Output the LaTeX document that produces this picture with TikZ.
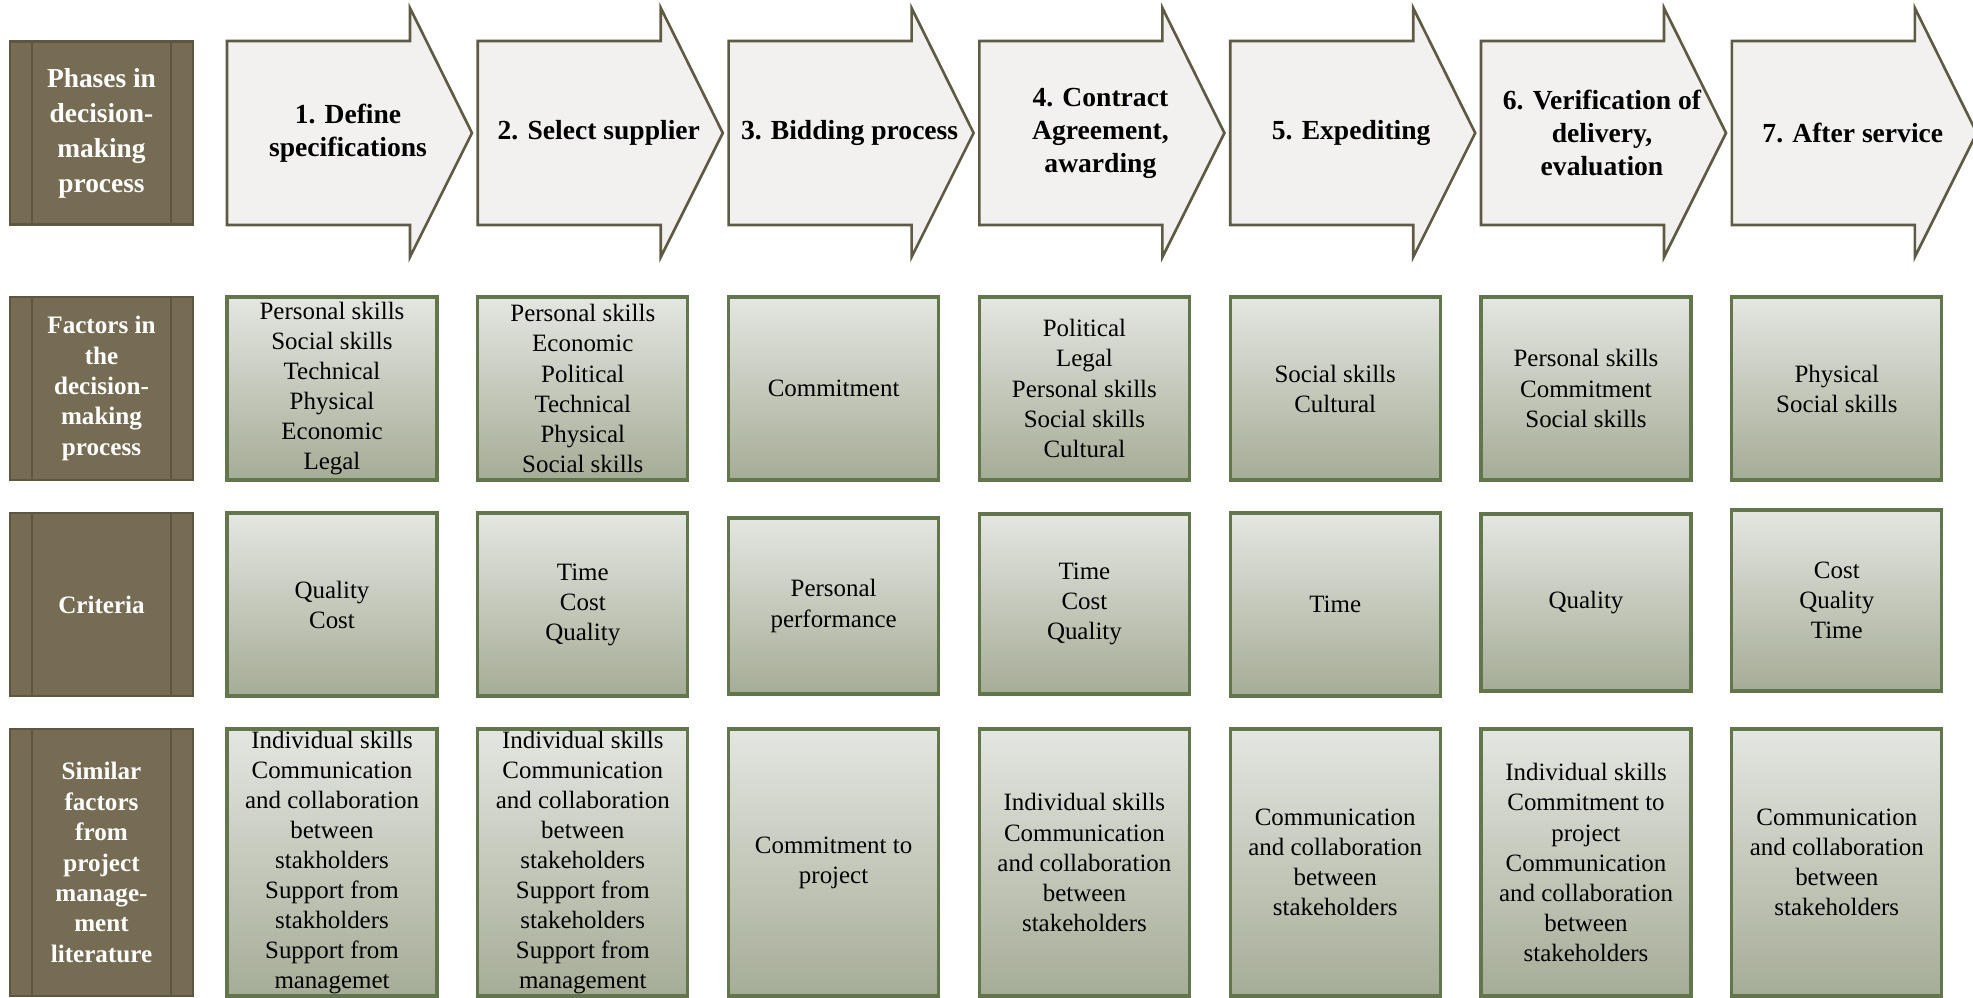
\documentclass[tikz,border=0pt]{standalone}
\usepackage{fontspec}
\setmainfont{LiberationSerif}[Extension=.ttf,UprightFont=*-Regular,BoldFont=*-Bold,ItalicFont=*-Italic,BoldItalicFont=*-BoldItalic]
\usepackage{tikz}
\definecolor{hdrfill}{RGB}{117,108,83}
\definecolor{hdrline}{RGB}{93,86,64}
\definecolor{arrfill}{RGB}{242,241,239}
\definecolor{arrline}{RGB}{94,90,68}
\definecolor{celltop}{RGB}{228,230,225}
\definecolor{cellbot}{RGB}{165,172,150}
\definecolor{cellline}{RGB}{99,117,75}

\begin{document}
\begin{tikzpicture}[x=0.02cm,y=-0.02cm,
  hdr/.style={draw=hdrline,line width=1.2pt,fill=hdrfill,minimum width=3.66cm,minimum height=3.66cm,inner sep=0pt,text=white,align=center,font=\fontsize{14.3}{17.3}\selectfont\bfseries},
  cell/.style={draw=cellline,line width=1.8pt,top color=celltop,bottom color=cellbot,minimum width=4.2cm,minimum height=3.66cm,inner sep=0pt,align=center,font=\fontsize{14.2}{17.1}\selectfont},
  phase/.style={align=center,inner sep=0pt,font=\fontsize{15.7}{18.8}\selectfont\bfseries},
  phasearrow/.style={draw=arrline,line width=1.5pt,fill=arrfill}]
\useasboundingbox (0,0) rectangle (1973,997);

% row headers
\node[hdr,font=\fontsize{15.6}{19.9}\selectfont\bfseries] (h1) at (101.5,133) {Phases in\\decision-\\making\\process};
\node[hdr] (h2) at (101.5,388.5) {Factors in\\the\\decision-\\making\\process};
\node[hdr] (h3) at (101.5,604.5) {Criteria};
\node[hdr,minimum height=5.34cm] (h4) at (101.5,862.5) {Similar\\factors\\from\\project\\manage-\\ment\\literature};
\foreach \h in {h1,h2,h3,h4}{
  \draw[hdrline,line width=1.2pt] ([xshift=0.46cm]\h.north west) -- ([xshift=0.46cm]\h.south west);
  \draw[hdrline,line width=1.2pt] ([xshift=-0.46cm]\h.north east) -- ([xshift=-0.46cm]\h.south east);
}

% phases
\foreach \k/\txt in {1/{1. Define\\specifications},2/{2. Select supplier},3/{3. Bidding process},4/{4. Contract\\Agreement,\\awarding},5/{5. Expediting},6/{6. Verification of\\delivery,\\evaluation},7/{7. After service}}{
  \draw[phasearrow] ({227+250.8*(\k-1)},41) -- ++(183,0) -- ++(0,-33) -- ++(62,125) -- ++(-62,124) -- ++(0,-32) -- ++(-183,0) -- cycle;
  \node[phase] (ph\k) at ({348+250.8*(\k-1)},133) {\txt};
}

% factors
\node[cell] (f1) at (332,388.5) {Personal skills\\Social skills\\Technical\\Physical\\Economic\\Legal};
\node[cell] (f2) at (582.8,388.5) {Personal skills\\Economic\\Political\\Technical\\Physical\\Social skills};
\node[cell] (f3) at (833.6,388.5) {Commitment};
\node[cell] (f4) at (1084.4,388.5) {Political\\Legal\\Personal skills\\Social skills\\Cultural};
\node[cell] (f5) at (1335.2,388.5) {Social skills\\Cultural};
\node[cell] (f6) at (1586,388.5) {Personal skills\\Commitment\\Social skills};
\node[cell] (f7) at (1836.8,388.5) {Physical\\Social skills};

% criteria
\node[cell] (c1) at (332,604.5) {Quality\\Cost};
\node[cell] (c2) at (582.8,604.5) {Time\\Cost\\Quality};
\node[cell,minimum height=3.52cm] (c3) at (833.6,606) {Personal\\performance};
\node[cell,minimum height=3.6cm] (c4) at (1084.4,604) {Time\\Cost\\Quality};
\node[cell] (c5) at (1335.2,604.5) {Time};
\node[cell,minimum height=3.54cm] (c6) at (1586,602.5) {Quality};
\node[cell,minimum height=3.62cm] (c7) at (1836.8,600.5) {Cost\\Quality\\Time};

% similar factors
\node[cell,minimum height=5.34cm] (s1) at (332,862.5) {Individual skills\\Communication\\and collaboration\\between\\stakholders\\Support from\\stakholders\\Support from\\managemet};
\node[cell,minimum height=5.34cm] (s2) at (582.8,862.5) {Individual skills\\Communication\\and collaboration\\between\\stakeholders\\Support from\\stakeholders\\Support from\\management};
\node[cell,minimum height=5.34cm] (s3) at (833.6,862.5) {Commitment to\\project};
\node[cell,minimum height=5.34cm] (s4) at (1084.4,862.5) {Individual skills\\Communication\\and collaboration\\between\\stakeholders};
\node[cell,minimum height=5.34cm] (s5) at (1335.2,862.5) {Communication\\and collaboration\\between\\stakeholders};
\node[cell,minimum height=5.34cm] (s6) at (1586,862.5) {Individual skills\\Commitment to\\project\\Communication\\and collaboration\\between\\stakeholders};
\node[cell,minimum height=5.34cm] (s7) at (1836.8,862.5) {Communication\\and collaboration\\between\\stakeholders};
\end{tikzpicture}
\end{document}
